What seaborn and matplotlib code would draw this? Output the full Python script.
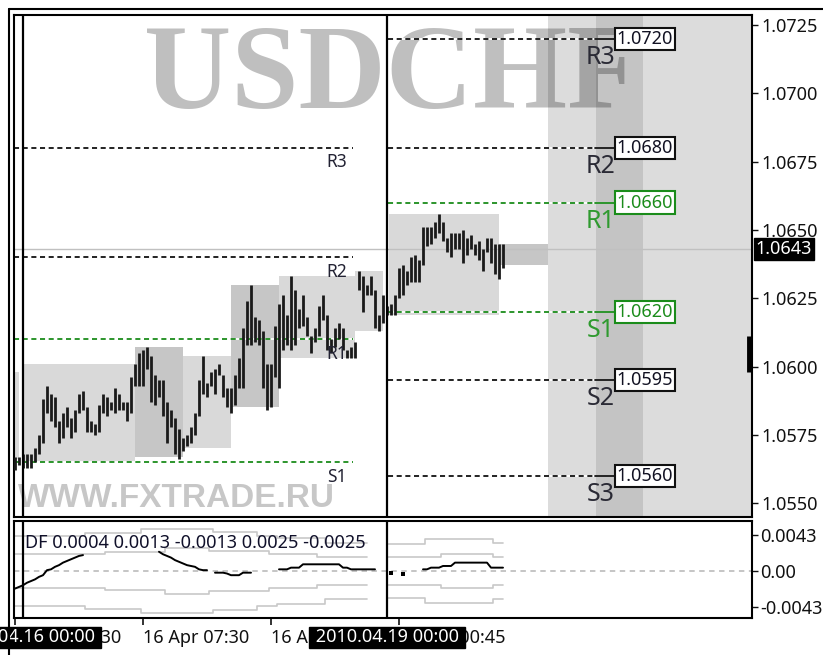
import matplotlib
matplotlib.use('Agg')
import matplotlib.pyplot as plt
import numpy as np
import pandas as pd
import seaborn as sns

# 15 minute bars, index 0 = 15 Apr 23:30
bar_high = [1.0567, 1.0567, 1.0568, 1.0568, 1.0568, 1.0570, 1.0575, 1.0588, 1.0593, 1.0590,
            1.0589, 1.0580, 1.0583, 1.0585, 1.0581, 1.0584, 1.0590, 1.0591, 1.0585, 1.0580,
            1.0579, 1.0586, 1.0590, 1.0589, 1.0587, 1.0592, 1.0590, 1.0587, 1.0587, 1.0596,
            1.0601, 1.0605, 1.0606, 1.0607, 1.0604, 1.0597, 1.0595, 1.0595, 1.0587, 1.0584,
            1.0581, 1.0577, 1.0574, 1.0575, 1.0578, 1.0583, 1.0595, 1.0604, 1.0594, 1.0598,
            1.0599, 1.0601, 1.0597, 1.0592, 1.0592, 1.0597, 1.0603, 1.0614, 1.0624, 1.0630,
            1.0618, 1.0617, 1.0613, 1.0601, 1.0601, 1.0615, 1.0623, 1.0626, 1.0619, 1.0633,
            1.0628, 1.0621, 1.0626, 1.0618, 1.0611, 1.0614, 1.0622, 1.0626, 1.0619, 1.0610,
            1.0614, 1.0616, 1.0614, 1.0606, 1.0607, 1.0609, 1.0635, 1.0633, 1.0630, 1.0633,
            1.0628, 1.0619, 1.0626, 1.0622, 1.0623, 1.0626, 1.0636, 1.0637, 1.0635, 1.0640,
            1.0641, 1.0639, 1.0651, 1.0651, 1.0651, 1.0653, 1.0656, 1.0653, 1.0647, 1.0649,
            1.0649, 1.0649, 1.0650, 1.0647, 1.0648, 1.0645, 1.0646, 1.0643, 1.0647, 1.0647,
            1.0645, 1.0645, 1.0645]
bar_low = [1.0562, 1.0564, 1.0563, 1.0563, 1.0563, 1.0565, 1.0568, 1.0572, 1.0583, 1.0580,
           1.0578, 1.0572, 1.0574, 1.0578, 1.0574, 1.0576, 1.0583, 1.0584, 1.0576, 1.0576,
           1.0575, 1.0576, 1.0583, 1.0582, 1.0584, 1.0583, 1.0584, 1.0584, 1.0580, 1.0583,
           1.0593, 1.0593, 1.0593, 1.0599, 1.0587, 1.0586, 1.0589, 1.0582, 1.0572, 1.0578,
           1.0568, 1.0566, 1.0569, 1.0571, 1.0572, 1.0575, 1.0582, 1.0590, 1.0589, 1.0593,
           1.0590, 1.0597, 1.0589, 1.0585, 1.0583, 1.0586, 1.0592, 1.0592, 1.0608, 1.0608,
           1.0609, 1.0608, 1.0592, 1.0584, 1.0585, 1.0596, 1.0592, 1.0606, 1.0608, 1.0606,
           1.0608, 1.0614, 1.0615, 1.0611, 1.0605, 1.0609, 1.0611, 1.0617, 1.0606, 1.0605,
           1.0607, 1.0610, 1.0606, 1.0603, 1.0603, 1.0603, 1.0628, 1.0620, 1.0626, 1.0626,
           1.0614, 1.0613, 1.0616, 1.0619, 1.0619, 1.0619, 1.0625, 1.0626, 1.0630, 1.0631,
           1.0631, 1.0631, 1.0637, 1.0644, 1.0645, 1.0647, 1.0649, 1.0646, 1.0642, 1.0640,
           1.0643, 1.0643, 1.0638, 1.0641, 1.0643, 1.0641, 1.0639, 1.0635, 1.0642, 1.0638,
           1.0634, 1.0632, 1.0636]
last_price = 1.0643

# session boxes (bar index from/to, top, bottom, shade)
box_from = [-3, 2, 30, 42, 54, 66, 85, 93.5, 121]
box_to = [1, 30, 42, 54, 66, 85, 92, 121, 133.25]
box_top = [1.0598, 1.0601, 1.0607, 1.0604, 1.0630, 1.0633, 1.0635, 1.0656, 1.0645]
box_bottom = [1.0566, 1.0565, 1.0567, 1.0570, 1.0585, 1.0603, 1.0613, 1.0619, 1.0637]
box_shade = ['light', 'light', 'dark', 'light', 'dark', 'light', 'light', 'light', 'dark']

# pivot levels of the previous day (Friday) and of the current day
left_names = ['R3', 'R2', 'R1', 'S1']
left_levels = [1.0680, 1.0640, 1.0610, 1.0565]
right_names = ['R3', 'R2', 'R1', 'S1', 'S2', 'S3']
right_levels = [1.0720, 1.0680, 1.0660, 1.0620, 1.0595, 1.0560]

# DF indicator
df_vals = [-0.0021, -0.0019, -0.0017, -0.0014, -0.0012, -0.0010, -0.0007, -0.0005, 0.0001, 0.0002,
           0.0005, 0.0007, 0.0010, 0.0012, 0.0014, 0.0016, 0.0018, 0.0019, None, None,
           None, None, None, None, None, None, None, None, None, None,
           None, None, None, None, None, None, 0.0023, 0.0020, 0.0018, 0.0016,
           0.0013, 0.0011, 0.0009, 0.0007, 0.0006, 0.0005, 0.0002, 0.0001, 0.0001, None,
           -0.0002, -0.0002, -0.0002, -0.0003, -0.0005, -0.0005, -0.0005, -0.0002, -0.0002, -0.0002,
           None, None, None, None, None, None, 0.0002, 0.0002, 0.0002, 0.0004,
           0.0004, 0.0004, 0.0008, 0.0008, 0.0008, 0.0008, 0.0008, 0.0008, 0.0008, 0.0008,
           0.0008, 0.0008, 0.0004, 0.0004, 0.0002, 0.0002, 0.0002, 0.0002, 0.0002, 0.0002,
           0.0002, None, None, None, -0.0002, None, None, -0.0003, None, None,
           None, None, 0.0002, 0.0002, 0.0004, 0.0004, 0.0004, 0.0006, 0.0006, 0.0006,
           0.0010, 0.0010, 0.0010, 0.0010, 0.0010, 0.0010, 0.0010, 0.0010, 0.0010, 0.0004,
           0.0004, 0.0004, 0.0004]
# band widths, run-length: level / number of bars
inner_levels = [0.0020, 0.0023, 0.0027, 0.0024, 0.0020, 0.0017, None, 0.0017, 0.0020, 0.0017]
inner_counts = [23, 15, 11, 15, 12, 13, 4, 14, 13, 3]
outer_levels = [0.0042, 0.0045, 0.0050, 0.0047, 0.0042, 0.0039, 0.0034, None, 0.0032, 0.0038, 0.0034]
outer_counts = [18, 14, 18, 11, 5, 12, 11, 4, 10, 17, 3]
df_label = 'DF 0.0004 0.0013 -0.0013 0.0025 -0.0025'

tick_bars = [0, 32, 64, 96]
tick_labels = ['15 Apr 23:30', '16 Apr 07:30', '16 Apr 15:30', '19 Apr 00:45']
day_starts = [2, 93]
day_labels = ['2010.04.16 00:00', '2010.04.19 00:00']

sns.set_theme(style='white')
plt.rcParams['font.family'] = ['Noto Sans', 'DejaVu Sans']
plt.rcParams['font.size'] = 13

W, H = 823, 655
fig = plt.figure(figsize=(W / 100, H / 100), dpi=100)


def px_rect(x0, y0, x1, y1):
    return [x0 / W, 1 - y1 / H, (x1 - x0) / W, (y1 - y0) / H]


ax = fig.add_axes(px_rect(14, 15, 752, 517))
axi = fig.add_axes(px_rect(14, 521, 752, 618), sharex=ax)

green = '#1b8c1b'
light, dark = '#d9d9d9', '#c6c6c6'
k = np.arange(len(bar_high))

# ---- price panel ----
ax.axvspan(133.25, 184.25, color='#dcdcdc', lw=0, zorder=0)
ax.axvspan(145.25, 157, color='#c4c4c4', lw=0, zorder=0)
for x0, x1, top, bot, sh in zip(box_from, box_to, box_top, box_bottom, box_shade):
    ax.fill_between([x0, x1], bot, top, color=light if sh == 'light' else dark,
                    lw=0, zorder=0.5)

ax.text(94.5, 1.06946, 'USDCHF', family='Liberation Serif', weight='bold',
        fontsize=87, color='black', alpha=0.25, ha='center', va='baseline', zorder=1)
ax.text(0.75, 1.05486, 'WWW.FXTRADE.RU', family='Liberation Sans', weight='bold',
        fontsize=24, color='black', alpha=0.22, ha='left', va='baseline', zorder=1)

ax.axhline(last_price, color='#c0c0c0', lw=1, zorder=1.5)

dash = (0, (2.8, 2.0))
for name, lvl in zip(left_names, left_levels):
    c = green if name in ('R1', 'S1') else '#111111'
    ax.plot([-0.25, 84.5], [lvl, lvl], color='white', lw=1.3, zorder=2)
    ax.plot([-0.25, 84.5], [lvl, lvl], color=c, lw=1.3, ls=dash, zorder=2.1)
    ax.annotate(name, xy=(83, lvl), xytext=(0, -14), textcoords='offset points',
                ha='right', va='baseline', fontsize=12.5, color='#222233', zorder=5)

for name, lvl in zip(right_names, right_levels):
    c = green if name in ('R1', 'S1') else '#111111'
    tc = '#2f9a2f' if name in ('R1', 'S1') else '#2a2a35'
    ax.plot([93.25, 149.75], [lvl, lvl], color='white', lw=1.3, zorder=2)
    ax.plot([93.25, 145], [lvl, lvl], color=c, lw=1.3, ls=dash, zorder=2.1)
    ax.plot([145, 149.75], [lvl, lvl], color=c, lw=1.3, zorder=2.1)
    ax.annotate(name, xy=(150, lvl), xytext=(0, -18), textcoords='offset points',
                ha='right', va='baseline', fontsize=18, color=tc, zorder=5)
    ax.annotate(f'{lvl:.4f}', xy=(149.75, lvl), xytext=(2, 0), textcoords='offset points',
                ha='left', va='center', fontsize=13, color=c if c == green else '#111122',
                bbox=dict(boxstyle='square,pad=0.12', fc='white', ec=c, lw=1.5), zorder=6)

ax.vlines(k, bar_low, bar_high, color='#1a1a1a', lw=2.0, zorder=4)
for d in day_starts:
    ax.axvline(d, color='black', lw=1.6, zorder=4.5)
    axi.axvline(d, color='black', lw=1.6, zorder=4.5)

ax.vlines(183.6, 1.0598, 1.0611, color='black', lw=3.5, zorder=6, clip_on=False)
ax.annotate(f'{last_price:.4f}', xy=(1, last_price), xycoords=('axes fraction', 'data'),
            xytext=(2.5, 0), textcoords='offset points', ha='left', va='center',
            fontsize=13, color='white', weight='bold',
            bbox=dict(boxstyle='square,pad=0.1', fc='black', ec='black'),
            annotation_clip=False, zorder=7)

ax.set_xlim(-0.25, 184.25)
ax.set_ylim(1.05449, 1.07287)
ax.yaxis.tick_right()
ax.set_yticks(np.arange(1.0550, 1.07251, 0.0025))
ax.yaxis.set_major_formatter(matplotlib.ticker.FormatStrFormatter('%.4f'))
ax.tick_params(axis='y', direction='out', length=4, width=1, pad=2.5, labelsize=13,
               colors='#111111', right=True)
ax.tick_params(axis='x', bottom=False, labelbottom=False)

# ---- DF panel ----
axi.axhline(0, color='#c0c0c0', lw=1.3, ls=(0, (3, 2.5)), zorder=1)
inner = np.repeat(np.array(inner_levels, dtype=float), inner_counts)
outer = np.repeat(np.array(outer_levels, dtype=float), outer_counts)
bands = pd.DataFrame({'k': np.tile(k, 4),
                      'v': np.concatenate([inner, -inner, outer, -outer]),
                      'line': np.repeat(['in+', 'in-', 'out+', 'out-'], len(k))})
bands['seg'] = bands['line'] + np.where(bands['k'] < 90, 'a', 'b')
bands = bands.dropna()
sns.lineplot(data=bands, x='k', y='v', units='seg', estimator=None, color='#c8c8c8',
             lw=1.2, drawstyle='steps-mid', ax=axi, legend=False, zorder=2)

dfv = pd.DataFrame({'k': k, 'v': np.array(df_vals, dtype=float)})
dfv['seg'] = dfv['v'].isna().cumsum()
dfv = dfv.dropna()
sizes = dfv.groupby('seg')['k'].transform('size')
sns.lineplot(data=dfv[sizes > 1], x='k', y='v', units='seg', estimator=None,
             color='black', lw=1.4, ax=axi, legend=False, zorder=3)
sns.scatterplot(data=dfv[sizes == 1], x='k', y='v', color='black', s=5,
                marker='s', lw=0, ax=axi, legend=False, zorder=3)

axi.text(2.4, 0.0034, df_label, fontsize=13, color='#10102a', ha='left', va='center', zorder=5)

axi.set_ylim(-0.00561, 0.00597)
axi.yaxis.tick_right()
axi.set_yticks([0.0043, 0.0, -0.0043])
axi.set_yticklabels(['0.0043', '0.00', '-0.0043'])
axi.tick_params(axis='y', direction='out', length=4, width=1, pad=2, labelsize=13,
                colors='#111111', right=True)
axi.set_xticks(tick_bars)
axi.set_xticklabels(tick_labels, ha='left')
axi.tick_params(axis='x', direction='out', length=5, width=1.2, pad=3, labelsize=13,
                colors='#111111', bottom=True)
axi.set_xlabel('')
axi.set_ylabel('')
ax.set_xlabel('')
ax.set_ylabel('')

for d, lab in zip(day_starts, day_labels):
    axi.annotate(' ' + lab + ' ', xy=(d, 0), xycoords=('data', 'axes fraction'), xytext=(0, -14),
                 textcoords='offset points', ha='center', va='center', fontsize=13,
                 color='white', bbox=dict(boxstyle='square,pad=0.1', fc='black', ec='black'),
                 annotation_clip=False, zorder=8)

for a in (ax, axi):
    for s in a.spines.values():
        s.set_visible(True)
        s.set_color('black')
        s.set_linewidth(1.5)

# outer window frame
fig.add_artist(plt.Line2D([8.5 / W, 8.5 / W], [0, 1 - 8.5 / H], transform=fig.transFigure,
                          color='black', lw=1.5))
fig.add_artist(plt.Line2D([8.5 / W, 1], [1 - 8.5 / H, 1 - 8.5 / H], transform=fig.transFigure,
                          color='black', lw=1.5))

fig.savefig('out.png', dpi=100)
